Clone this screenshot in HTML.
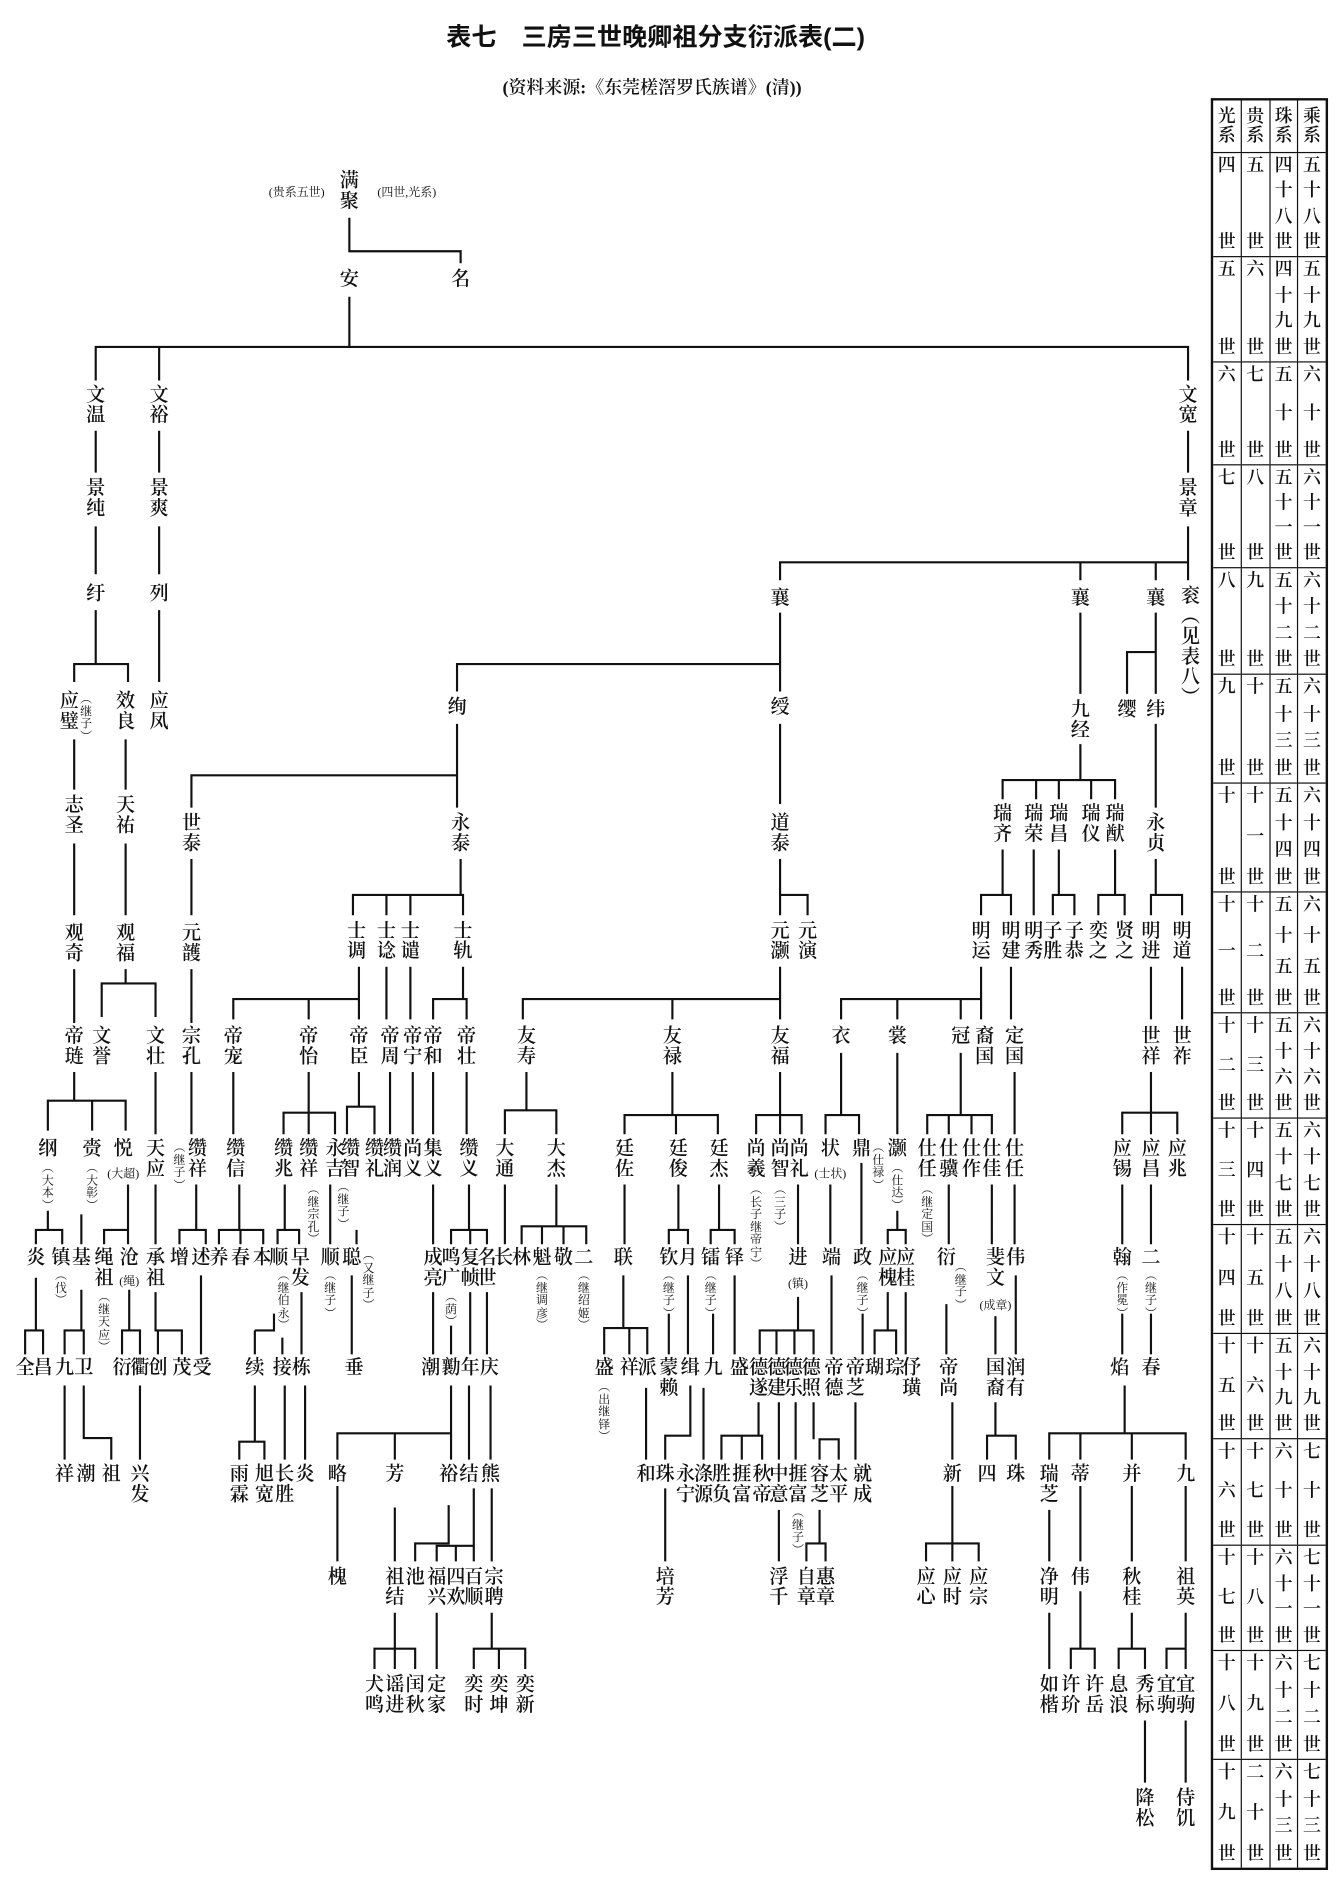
<!DOCTYPE html>
<html><head><meta charset="utf-8"><style>
html,body{margin:0;padding:0;background:#fff;}
#wrap{position:relative;width:1340px;height:1879px;overflow:hidden;background:#fff;}
#c{position:absolute;left:0;top:0;width:1120px;height:1571px;transform:scale(1.19643);transform-origin:0 0;font-family:"Liberation Serif","Noto Serif CJK SC",serif;color:#111;}
#c b{position:absolute;width:18px;margin-left:-9px;font-size:16px;line-height:17px;text-align:center;font-weight:600;line-break:anywhere;word-break:break-all;overflow-wrap:anywhere;}
#c i{position:absolute;width:11px;margin-left:-5.5px;font-size:10px;line-height:10.5px;text-align:center;font-style:normal;line-break:anywhere;word-break:break-all;overflow-wrap:anywhere;}
#c u{position:absolute;font-size:10px;white-space:nowrap;transform:translateX(-50%);text-decoration:none;}
#c svg{position:absolute;left:0;top:0;}
.t{position:absolute;left:548px;top:15px;transform:translateX(-50%);font-size:21px;font-weight:bold;white-space:nowrap;font-family:"Liberation Sans","Noto Sans CJK SC",sans-serif;}
.st{position:absolute;left:545px;top:62px;transform:translateX(-50%);font-size:15px;white-space:nowrap;font-weight:600;}
#tb{position:absolute;left:1012px;top:82px;width:98px;border:2px solid #111;box-sizing:border-box;}
.r{display:flex;border-top:1.5px solid #111;}
.r:first-child{border-top:none;}
.r>div{flex:1;border-left:1.5px solid #111;display:flex;flex-direction:column;justify-content:space-between;align-items:center;font-size:15px;line-height:16px;padding:3px 0;box-sizing:border-box;font-weight:600;}
.r>div:first-child{border-left:none;}
.hd>div{justify-content:center;line-height:16px;}
</style></head><body><div id="wrap"><div id="c">
<div class="t">表七　三房三世晚卿祖分支衍派表(二)</div>
<div class="st">(资料来源:《东莞槎滘罗氏族谱》(清))</div>

<svg width="1120" height="1571" viewBox="0 0 1120 1571" fill="none" stroke="#111" stroke-width="1.8">
<path d="M292 182V210H385V220M292 248V290M80 318V290H993V318M133 290V318"/>
<path d="M80 360V395M80 440V480M133 360V395M133 440V480M993 360V395M993 440V485M652 485V470H993M903 470V485M966 470V485"/>
<path d="M80 510V555M62 570V555H107V570M133 510V570M652 512V578M382 578V555H652M903 512V580M966 512V580M942 580V545H966"/>
<path d="M62 618V660M105 618V660M382 605V675M160 675V648H382M652 605V672M903 622V652M838 668V652H932V668M866 652V668M885 652V668M912 652V668M966 605V675"/>
<path d="M62 705V765M105 705V765M160 718V765M385 718V748M295 765V748H387V765M323 748V765M343 748V765M652 718V765M652 748H675V765M838 710V748M820 765V748H845V765M864 710V765M885 710V748M880 765V748H898V765M932 710V748M918 765V748H940V765M966 718V748M962 765V748H988V765"/>
<path d="M62 810V855M105 810V822M85 850V822H130V850M160 810V855M300 808V852M195 852V835H300M258 835V852M323 808V852M343 808V852M387 808V835M362 852V835H390V852M652 808V852M437 852V835H652M562 835V852M820 808V852M703 852V835H820M750 835V852M803 835V852M845 808V852M962 808V852M988 808V852"/>
<path d="M62 896V920M40 945V920H105V945M77 920V945M130 896V948M160 896V948M195 896V948M258 896V948M237 948V930H280V948M300 896V925M290 948V925H313V948M326 896V948M345 896V948M362 896V948M390 896V948M440 896V928M422 948V928H465V948M562 896V932M522 948V932H600V948M565 932V948M652 896V948M632 948V932H670V948M703 880V932M690 948V932H718V948M750 880V948M803 880V932M775 948V932H829V948M793 932V948M812 932V948M848 896V948M962 896V948M938 948V930H984V948"/>
<path d="M40 1012V1028M30 1040V1028H52V1040M68 1015V1040M107 990V1028M87 1040V1028H107V1040M130 990V1040M164 990V1028M150 1040V1028H172V1040M200 990V1028M183 1040V1028H220V1040M201 1028V1040M238 990V1028M232 1040V1028H250V1040M276 990V1040M298 1028V1040M362 990V1040M392 990V1028M377 1040V1028H407V1040M393 1028V1040M422 990V1040M465 990V1025M436 1040V1025H490V1040M453 1025V1040M471 1025V1040M522 990V1040M567 990V1028M559 1040V1028H575V1040M601 990V1028M594 1040V1028H614V1040M667 990V1040M694 990V1040M720 972V1040M750 1012V1028M742 1040V1028H757V1040M793 990V1040M829 990V1040M848 990V1040M938 990V1040M962 990V1040"/>
<path d="M30 1068V1112M21 1132V1112H36V1132M68 1078V1112M54 1132V1112H70V1132M108 1078V1112M102 1132V1112H117V1132M130 1080V1112H152V1132M132 1112V1132M168 1066V1132M213 1112V1132M213 1112H229V1098M236 1118V1132M252 1080V1132M294 1066V1132M362 1080V1132M377 1108V1132M393 1080V1132M407 1080V1132M521 1066V1110M505 1132V1110H541V1132M526 1110V1132M559 1098V1132M575 1066V1132M596 1098V1132M614 1066V1132M667 1084V1112M635 1132V1112H680V1132M649 1112V1132M664 1112V1132M695 1066V1132M721 1098V1132M742 1080V1112M731 1132V1112H749V1132M757 1080V1132M791 1090V1132M832 1100V1132M849 1066V1132M938 1098V1132M962 1098V1132"/>
<path d="M54 1158V1220M70 1158V1202H93V1220M117 1158V1220M213 1158V1205M200 1220V1205H221V1220M238 1158V1220M255 1158V1220M377 1158V1198M282 1220V1198H377V1220M330 1198V1220M392 1158V1220M410 1158V1220M540 1160V1220M577 1158V1200H556V1220M588 1160V1220M634 1172V1200M603 1220V1200H637V1220M620 1200V1220M651 1172V1220M665 1172V1220M680 1172V1203M685 1220V1203H701V1220M715 1172V1220M796 1172V1220M832 1172V1200M825 1220V1200H849V1220M940 1158V1198M877 1220V1198H991V1220M903 1198V1220M946 1198V1220"/>
<path d="M282 1242V1305M330 1260V1305M375 1258V1290H347V1305M396 1244V1292M365 1305V1292H396V1305M381 1292V1305M411 1244V1305M556 1244V1305M651 1262V1305M685 1262V1290M674 1305V1290H690V1305M796 1242V1290M774 1305V1290H818V1305M796 1290V1305M877 1262V1305M903 1242V1305M946 1242V1305M991 1242V1305"/>
<path d="M330 1348V1378M313 1395V1378H347V1395M330 1378V1395M365 1348V1395M411 1348V1378M396 1395V1378H439V1395M417 1378V1395M877 1348V1395M903 1330V1378M895 1395V1378H915V1395M946 1348V1378M935 1395V1378H957V1395M991 1348V1378H975V1395M991 1378V1395M957 1438V1490M991 1438V1490"/>
</svg>

<u style="left:248px;top:152px">(贵系五世)</u><b style="left:292px;top:143px">满聚</b><u style="left:340px;top:152px">(四世,光系)</u>
<b style="left:292px;top:225px">安</b><b style="left:385px;top:225px">名</b>
<b style="left:80px;top:322px">文温</b><b style="left:133px;top:322px">文裕</b><b style="left:993px;top:322px">文宽</b>
<b style="left:80px;top:400px">景纯</b><b style="left:133px;top:400px">景爽</b><b style="left:993px;top:400px">景章</b>
<b style="left:80px;top:488px">纡</b><b style="left:133px;top:488px">列</b>
<b style="left:652px;top:492px">襄</b><b style="left:903px;top:492px">襄</b><b style="left:966px;top:492px">襄</b><b style="left:995px;top:490px">衮<br>︵<br>见<br>表<br>八<br>︶</b>
<b style="left:58px;top:578px">应璧</b><i style="left:72px;top:580px">︵继子︶</i><b style="left:105px;top:578px">效良</b><b style="left:133px;top:578px">应凤</b>
<b style="left:382px;top:583px">绚</b><b style="left:652px;top:583px">绶</b><b style="left:903px;top:585px">九经</b><b style="left:942px;top:585px">缨</b><b style="left:966px;top:585px">纬</b>
<b style="left:62px;top:665px">志圣</b><b style="left:105px;top:665px">天祐</b><b style="left:160px;top:680px">世泰</b><b style="left:385px;top:680px">永泰</b><b style="left:652px;top:680px">道泰</b>
<b style="left:838px;top:672px">瑞齐</b><b style="left:864px;top:672px">瑞荣</b><b style="left:885px;top:672px">瑞昌</b><b style="left:912px;top:672px">瑞仪</b><b style="left:932px;top:672px">瑞猷</b><b style="left:966px;top:680px">永贞</b>
<b style="left:62px;top:772px">观奇</b><b style="left:105px;top:772px">观福</b><b style="left:160px;top:772px">元頀</b>
<b style="left:298px;top:770px">士调</b><b style="left:323px;top:770px">士谂</b><b style="left:343px;top:770px">士谴</b><b style="left:387px;top:770px">士轨</b>
<b style="left:652px;top:770px">元灏</b><b style="left:675px;top:770px">元演</b>
<b style="left:820px;top:770px">明运</b><b style="left:845px;top:770px">明建</b><b style="left:864px;top:770px">明秀</b><b style="left:880px;top:770px">子胜</b><b style="left:898px;top:770px">子恭</b><b style="left:918px;top:770px">奕之</b><b style="left:940px;top:770px">贤之</b><b style="left:962px;top:770px">明进</b><b style="left:988px;top:770px">明道</b>
<b style="left:62px;top:858px">帝琏</b><b style="left:85px;top:858px">文誉</b><b style="left:130px;top:858px">文壮</b><b style="left:160px;top:858px">宗孔</b>
<b style="left:195px;top:858px">帝宠</b><b style="left:258px;top:858px">帝怡</b><b style="left:300px;top:858px">帝臣</b><b style="left:326px;top:858px">帝周</b><b style="left:345px;top:858px">帝宁</b><b style="left:362px;top:858px">帝和</b><b style="left:390px;top:858px">帝壮</b>
<b style="left:440px;top:858px">友寿</b><b style="left:562px;top:858px">友禄</b><b style="left:652px;top:858px">友福</b>
<b style="left:703px;top:858px">衣</b><b style="left:750px;top:858px">裳</b><b style="left:803px;top:858px">冠</b><b style="left:823px;top:858px">裔国</b><b style="left:848px;top:858px">定国</b>
<b style="left:962px;top:858px">世祥</b><b style="left:988px;top:858px">世祚</b>

<b style="left:40px;top:952px">纲</b><i style="left:40px;top:972px">︵大本︶</i>
<b style="left:77px;top:952px">赍</b><i style="left:77px;top:972px">︵大彰︶</i>
<b style="left:103px;top:952px">悦</b><u style="left:103px;top:972px">(大超)</u>
<b style="left:130px;top:952px">天应</b><i style="left:150px;top:955px">︵继子︶</i><b style="left:165px;top:952px">缵祥</b>
<b style="left:197px;top:952px">缵信</b><b style="left:237px;top:952px">缵兆</b><b style="left:258px;top:952px">缵祥</b><i style="left:262px;top:990px">︵继宗孔︶</i><b style="left:280px;top:952px">永吉</b>
<b style="left:293px;top:952px">缵智</b><i style="left:287px;top:988px">︵继子︶</i><b style="left:313px;top:952px">缵礼</b><b style="left:328px;top:952px">缵润</b><b style="left:345px;top:952px">尚义</b><b style="left:362px;top:952px">集义</b><b style="left:392px;top:952px">缵义</b>
<b style="left:422px;top:952px">大通</b><b style="left:465px;top:952px">大杰</b>
<b style="left:522px;top:952px">廷佐</b><b style="left:567px;top:952px">廷俊</b><b style="left:601px;top:952px">廷杰</b>
<b style="left:632px;top:952px">尚羲</b><i style="left:632px;top:990px">︵长子继帝宁︶</i><b style="left:652px;top:952px">尚智</b><i style="left:652px;top:990px">︵三子︶</i><b style="left:668px;top:952px">尚礼</b>
<b style="left:694px;top:952px">状</b><u style="left:694px;top:972px">(士状)</u><b style="left:720px;top:952px">鼎</b><i style="left:734px;top:955px">︵仕禄︶</i>
<b style="left:750px;top:952px">灏</b><i style="left:750px;top:972px">︵仕达︶</i>
<b style="left:775px;top:952px">仕任</b><i style="left:775px;top:990px">︵继定国︶</i><b style="left:793px;top:952px">仕骥</b><b style="left:812px;top:952px">仕作</b><b style="left:829px;top:952px">仕佳</b><b style="left:848px;top:952px">仕任</b>
<b style="left:938px;top:952px">应锡</b><b style="left:962px;top:952px">应昌</b><b style="left:984px;top:952px">应兆</b>

<b style="left:30px;top:1043px">炎</b><b style="left:51px;top:1043px">镇</b><i style="left:51px;top:1062px">︵伐︶</i><b style="left:68px;top:1043px">基</b>
<b style="left:87px;top:1043px">绳祖</b><i style="left:87px;top:1080px">︵继天应︶</i><b style="left:108px;top:1043px">沧</b><u style="left:108px;top:1062px">(绳)</u><b style="left:130px;top:1043px">承祖</b>
<b style="left:150px;top:1043px">增</b><b style="left:168px;top:1043px">述</b><b style="left:183px;top:1043px">养</b><b style="left:201px;top:1043px">春</b><b style="left:219px;top:1043px">本</b>
<b style="left:233px;top:1043px">顺</b><i style="left:237px;top:1062px">︵继伯永︶</i><b style="left:251px;top:1043px">早发</b><b style="left:276px;top:1043px">顺</b><i style="left:276px;top:1062px">︵继子︶</i>
<b style="left:294px;top:1043px">聪</b><i style="left:308px;top:1045px">︵又继子︶</i>
<b style="left:362px;top:1043px">成亮</b><b style="left:377px;top:1043px">鸣广</b><i style="left:377px;top:1080px">︵荫︶</i><b style="left:393px;top:1043px">复帧</b><b style="left:407px;top:1043px">名世</b>
<b style="left:421px;top:1043px">长</b><b style="left:436px;top:1043px">林</b><b style="left:453px;top:1043px">魁</b><i style="left:453px;top:1062px">︵继调彦︶</i><b style="left:471px;top:1043px">敬</b><b style="left:488px;top:1043px">二</b><i style="left:488px;top:1062px">︵继绍姬︶</i>
<b style="left:521px;top:1043px">联</b><b style="left:559px;top:1043px">钦</b><i style="left:559px;top:1062px">︵继子︶</i><b style="left:575px;top:1043px">月</b><b style="left:594px;top:1043px">镭</b><i style="left:594px;top:1062px">︵继子︶</i><b style="left:614px;top:1043px">铎</b>
<b style="left:667px;top:1043px">进</b><u style="left:667px;top:1064px">(镇)</u><b style="left:695px;top:1043px">端</b><b style="left:721px;top:1043px">政</b><i style="left:721px;top:1062px">︵继子︶</i>
<b style="left:742px;top:1043px">应槐</b><b style="left:757px;top:1043px">应桂</b><b style="left:791px;top:1043px">衍</b><i style="left:803px;top:1055px">︵继子︶</i>
<b style="left:832px;top:1043px">斐文</b><u style="left:832px;top:1082px">(成章)</u><b style="left:849px;top:1043px">伟</b>
<b style="left:938px;top:1043px">翰</b><i style="left:938px;top:1062px">︵作冕︶</i><b style="left:962px;top:1043px">二</b><i style="left:962px;top:1062px">︵继子︶</i>

<b style="left:21px;top:1135px">全</b><b style="left:36px;top:1135px">昌</b><b style="left:54px;top:1135px">九</b><b style="left:70px;top:1135px">卫</b><b style="left:102px;top:1135px">衍</b><b style="left:117px;top:1135px">衢</b><b style="left:132px;top:1135px">创</b><b style="left:152px;top:1135px">茂</b><b style="left:169px;top:1135px">受</b>
<b style="left:213px;top:1135px">续</b><b style="left:236px;top:1135px">接</b><b style="left:252px;top:1135px">栋</b><b style="left:296px;top:1135px">垂</b>
<b style="left:360px;top:1135px">潮</b><b style="left:377px;top:1135px">勷</b><b style="left:393px;top:1135px">年</b><b style="left:409px;top:1135px">庆</b>
<b style="left:505px;top:1135px">盛</b><i style="left:505px;top:1155px">︵出继铎︶</i><b style="left:526px;top:1135px">祥</b><b style="left:541px;top:1135px">派</b><b style="left:559px;top:1135px">蒙赖</b><b style="left:577px;top:1135px">缉</b><b style="left:596px;top:1135px">九</b><b style="left:618px;top:1135px">盛</b>
<b style="left:634px;top:1135px">德遂</b><b style="left:649px;top:1135px">德建</b><b style="left:663px;top:1135px">德乐</b><b style="left:678px;top:1135px">德照</b><b style="left:697px;top:1135px">帝德</b><b style="left:715px;top:1135px">帝芝</b>
<b style="left:731px;top:1135px">瑚</b><b style="left:748px;top:1135px">琮</b><b style="left:762px;top:1135px">伃璜</b><b style="left:793px;top:1135px">帝尚</b><b style="left:832px;top:1135px">国裔</b><b style="left:849px;top:1135px">润有</b>
<b style="left:936px;top:1135px">焰</b><b style="left:962px;top:1135px">春</b>

<b style="left:54px;top:1224px">祥</b><b style="left:72px;top:1224px">潮</b><b style="left:93px;top:1224px">祖</b><b style="left:117px;top:1224px">兴发</b>
<b style="left:200px;top:1224px">雨霖</b><b style="left:221px;top:1224px">旭宽</b><b style="left:238px;top:1224px">长胜</b><b style="left:255px;top:1224px">炎</b>
<b style="left:282px;top:1224px">略</b><b style="left:330px;top:1224px">芳</b><b style="left:375px;top:1224px">裕</b><b style="left:392px;top:1224px">结</b><b style="left:410px;top:1224px">熊</b>
<b style="left:540px;top:1224px">和</b><b style="left:556px;top:1224px">珠</b><b style="left:573px;top:1224px">永宁</b><b style="left:588px;top:1224px">涤源</b><b style="left:603px;top:1224px">胜负</b><b style="left:620px;top:1224px">捱富</b><b style="left:637px;top:1224px">秋帝</b><b style="left:651px;top:1224px">中意</b><b style="left:667px;top:1224px">捱富</b><i style="left:667px;top:1260px">︵继子︶</i><b style="left:685px;top:1224px">容芝</b><b style="left:701px;top:1224px">太平</b><b style="left:721px;top:1224px">就成</b>
<b style="left:796px;top:1224px">新</b><b style="left:825px;top:1224px">四</b><b style="left:849px;top:1224px">珠</b>
<b style="left:877px;top:1224px">瑞芝</b><b style="left:903px;top:1224px">蒂</b><b style="left:946px;top:1224px">并</b><b style="left:991px;top:1224px">九</b>

<b style="left:282px;top:1310px">槐</b><b style="left:330px;top:1310px">祖结</b><b style="left:347px;top:1310px">池</b><b style="left:365px;top:1310px">福兴</b><b style="left:381px;top:1310px">四欢</b><b style="left:396px;top:1310px">百顺</b><b style="left:413px;top:1310px">宗聘</b>
<b style="left:556px;top:1310px">培芳</b><b style="left:651px;top:1310px">浮千</b><b style="left:674px;top:1310px">自章</b><b style="left:690px;top:1310px">惠章</b>
<b style="left:774px;top:1310px">应心</b><b style="left:796px;top:1310px">应时</b><b style="left:818px;top:1310px">应宗</b>
<b style="left:877px;top:1310px">净明</b><b style="left:903px;top:1310px">伟</b><b style="left:946px;top:1310px">秋桂</b><b style="left:991px;top:1310px">祖英</b>

<b style="left:313px;top:1400px">犬鸣</b><b style="left:330px;top:1400px">谣进</b><b style="left:347px;top:1400px">闰秋</b><b style="left:365px;top:1400px">定家</b><b style="left:396px;top:1400px">奕时</b><b style="left:417px;top:1400px">奕坤</b><b style="left:439px;top:1400px">奕新</b>
<b style="left:877px;top:1400px">如楷</b><b style="left:895px;top:1400px">许玠</b><b style="left:915px;top:1400px">许岳</b><b style="left:935px;top:1400px">息浪</b><b style="left:957px;top:1400px">秀标</b><b style="left:975px;top:1400px">宜驹</b><b style="left:991px;top:1400px">宜驹</b>
<b style="left:957px;top:1495px">降松</b><b style="left:991px;top:1495px">侍饥</b>

<div id="tb">
<div class="r hd" style="height:43px"><div>光<br>系</div><div>贵<br>系</div><div>珠<br>系</div><div>乘<br>系</div></div>
<div class="r" style="height:86px"><div><span>四</span><span>世</span></div><div><span>五</span><span>世</span></div><div><span>四</span><span>十</span><span>八</span><span>世</span></div><div><span>五</span><span>十</span><span>八</span><span>世</span></div></div>
<div class="r" style="height:87px"><div><span>五</span><span>世</span></div><div><span>六</span><span>世</span></div><div><span>四</span><span>十</span><span>九</span><span>世</span></div><div><span>五</span><span>十</span><span>九</span><span>世</span></div></div>
<div class="r" style="height:85px"><div><span>六</span><span>世</span></div><div><span>七</span><span>世</span></div><div><span>五</span><span>十</span><span>世</span></div><div><span>六</span><span>十</span><span>世</span></div></div>
<div class="r" style="height:85px"><div><span>七</span><span>世</span></div><div><span>八</span><span>世</span></div><div><span>五</span><span>十</span><span>一</span><span>世</span></div><div><span>六</span><span>十</span><span>一</span><span>世</span></div></div>
<div class="r" style="height:88px"><div><span>八</span><span>世</span></div><div><span>九</span><span>世</span></div><div><span>五</span><span>十</span><span>二</span><span>世</span></div><div><span>六</span><span>十</span><span>二</span><span>世</span></div></div>
<div class="r" style="height:90px"><div><span>九</span><span>世</span></div><div><span>十</span><span>世</span></div><div><span>五</span><span>十</span><span>三</span><span>世</span></div><div><span>六</span><span>十</span><span>三</span><span>世</span></div></div>
<div class="r" style="height:90px"><div><span>十</span><span>世</span></div><div><span>十</span><span>一</span><span>世</span></div><div><span>五</span><span>十</span><span>四</span><span>世</span></div><div><span>六</span><span>十</span><span>四</span><span>世</span></div></div>
<div class="r" style="height:100px"><div><span>十</span><span>一</span><span>世</span></div><div><span>十</span><span>二</span><span>世</span></div><div><span>五</span><span>十</span><span>五</span><span>世</span></div><div><span>六</span><span>十</span><span>五</span><span>世</span></div></div>
<div class="r" style="height:87px"><div><span>十</span><span>二</span><span>世</span></div><div><span>十</span><span>三</span><span>世</span></div><div><span>五</span><span>十</span><span>六</span><span>世</span></div><div><span>六</span><span>十</span><span>六</span><span>世</span></div></div>
<div class="r" style="height:88px"><div><span>十</span><span>三</span><span>世</span></div><div><span>十</span><span>四</span><span>世</span></div><div><span>五</span><span>十</span><span>七</span><span>世</span></div><div><span>六</span><span>十</span><span>七</span><span>世</span></div></div>
<div class="r" style="height:90px"><div><span>十</span><span>四</span><span>世</span></div><div><span>十</span><span>五</span><span>世</span></div><div><span>五</span><span>十</span><span>八</span><span>世</span></div><div><span>六</span><span>十</span><span>八</span><span>世</span></div></div>
<div class="r" style="height:87px"><div><span>十</span><span>五</span><span>世</span></div><div><span>十</span><span>六</span><span>世</span></div><div><span>五</span><span>十</span><span>九</span><span>世</span></div><div><span>六</span><span>十</span><span>九</span><span>世</span></div></div>
<div class="r" style="height:88px"><div><span>十</span><span>六</span><span>世</span></div><div><span>十</span><span>七</span><span>世</span></div><div><span>六</span><span>十</span><span>世</span></div><div><span>七</span><span>十</span><span>世</span></div></div>
<div class="r" style="height:87px"><div><span>十</span><span>七</span><span>世</span></div><div><span>十</span><span>八</span><span>世</span></div><div><span>六</span><span>十</span><span>一</span><span>世</span></div><div><span>七</span><span>十</span><span>一</span><span>世</span></div></div>
<div class="r" style="height:90px"><div><span>十</span><span>八</span><span>世</span></div><div><span>十</span><span>九</span><span>世</span></div><div><span>六</span><span>十</span><span>二</span><span>世</span></div><div><span>七</span><span>十</span><span>二</span><span>世</span></div></div>
<div class="r" style="height:90px"><div><span>十</span><span>九</span><span>世</span></div><div><span>二</span><span>十</span><span>世</span></div><div><span>六</span><span>十</span><span>三</span><span>世</span></div><div><span>七</span><span>十</span><span>三</span><span>世</span></div></div>
</div>
</div></div></body></html>
